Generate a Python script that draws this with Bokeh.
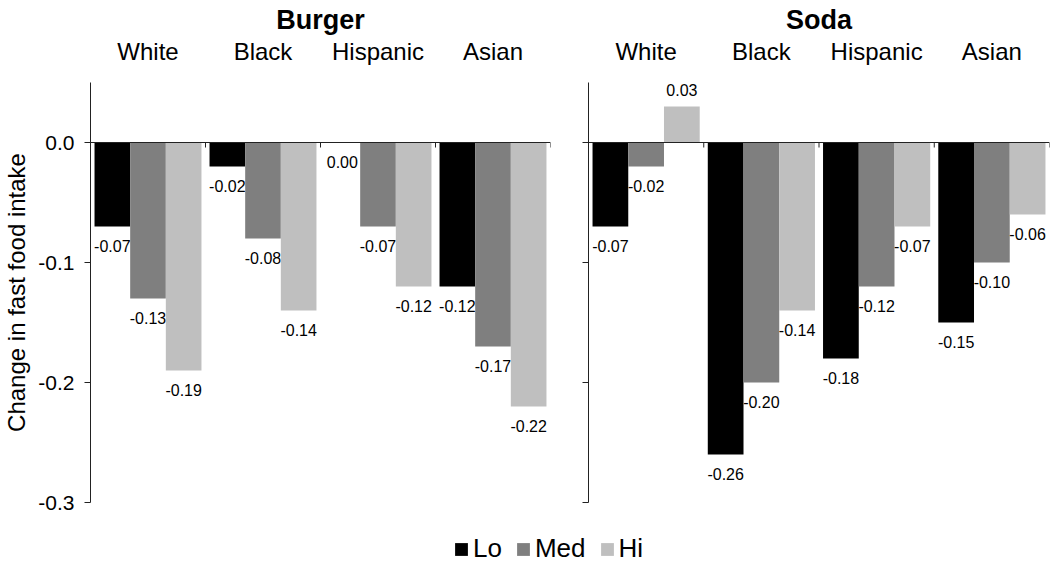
from bokeh.plotting import figure
from bokeh.models import (FactorRange, Range1d, FixedTicker, PrintfTickFormatter,
                          Span, Legend, LegendItem, ColumnDataSource)
from bokeh.layouts import column, row
from bokeh.transform import dodge
from bokeh.core.properties import value
from bokeh.embed import file_html
from bokeh.resources import INLINE

races = ["White", "Black", "Hispanic", "Asian"]
levels = ["Lo", "Med", "Hi"]
burger_lo = [-0.07, -0.02, 0.00, -0.12]
burger_med = [-0.13, -0.08, -0.07, -0.17]
burger_hi = [-0.19, -0.14, -0.12, -0.22]
soda_lo = [-0.07, -0.26, -0.18, -0.15]
soda_med = [-0.02, -0.20, -0.12, -0.10]
soda_hi = [0.03, -0.14, -0.07, -0.06]
y_ticks = [0.0, -0.1, -0.2, -0.3]
colors = ["#000000", "#7f7f7f", "#bfbfbf"]

FONT = "Liberation Sans"
Y0, Y1 = -0.3, 0.05
FRAME_H = 420
BAR_W = 0.31
OFFSETS = [-BAR_W, 0.0, BAR_W]


def panel(title, series, first):
    p = figure(
        x_range=FactorRange(factors=races, range_padding=0, factor_padding=0),
        y_range=Range1d(Y0, Y1),
        width=569 if first else 481, height=516,
        output_backend="svg", toolbar_location=None, title=title,
        x_axis_location="above",
        min_border_top=82, min_border_bottom=14,
        min_border_left=90 if first else 19,
        min_border_right=19 if first else 1,
    )
    p.outline_line_color = None
    p.grid.visible = False
    p.background_fill_color = "white"
    p.title.align = "center"
    p.title.text_font = FONT
    p.title.text_font_style = "bold"
    p.title.text_font_size = "27px"
    p.title.text_color = "black"
    p.title.standoff = 0
    p.title.text_line_height = 1.0

    xa = p.xaxis[0]
    xa.axis_line_color = None
    xa.major_tick_line_color = None
    xa.major_tick_out = 0
    xa.major_tick_in = 0
    xa.major_label_text_font = FONT
    xa.major_label_text_font_size = "24px"
    xa.major_label_text_color = "black"
    xa.major_label_text_line_height = 1.0
    xa.major_label_standoff = 18

    ya = p.yaxis[0]
    ya.ticker = FixedTicker(ticks=y_ticks)
    ya.formatter = PrintfTickFormatter(format="%.1f")
    ya.axis_line_color = "#222222"
    ya.major_tick_line_color = "#222222"
    ya.major_tick_out = 6
    ya.major_tick_in = 0
    ya.minor_tick_line_color = None
    ya.major_label_standoff = 10
    ya.major_label_text_font = FONT
    ya.major_label_text_color = "black"
    ya.major_label_text_font_size = "21px"
    if first:
        ya.axis_label = "Change in fast food intake"
        ya.axis_label_text_font = FONT
        ya.axis_label_text_font_size = "24px"
        ya.axis_label_text_font_style = "normal"
        ya.axis_label_text_color = "black"
        ya.axis_label_text_line_height = 1.0
        ya.axis_label_standoff = 5
    else:
        ya.major_label_overrides = {t: "" for t in y_ticks}
        ya.major_label_standoff = 0

    for vals, off, col in zip(series, OFFSETS, colors):
        src = ColumnDataSource(dict(
            race=races, val=vals,
            txt=[f"{v:.2f}" for v in vals],
            yoff=[-17 if v > 0 else 19 for v in vals],
        ))
        p.vbar(x=dodge("race", off, range=p.x_range), top="val", bottom=0,
               width=BAR_W, source=src, fill_color=col, line_color=None)
        p.text(x=dodge("race", off, range=p.x_range), y="val", text="txt",
               y_offset="yoff", source=src, text_align="center",
               text_baseline="middle", text_font=value(FONT),
               text_font_size="16px", text_color="black")

    p.add_layout(Span(location=0, dimension="width", line_color="#222222",
                      line_width=1))
    tick_len = 5 * (Y1 - Y0) / FRAME_H
    bounds = [1, 2, 3, 4]
    p.segment(x0=bounds, y0=[0] * 4, x1=bounds, y1=[-tick_len] * 4,
              line_color="#222222", line_width=1)
    return p


p1 = panel("Burger", [burger_lo, burger_med, burger_hi], True)
p2 = panel("Soda", [soda_lo, soda_med, soda_hi], False)

lf = figure(width=1050, height=48, output_backend="svg", toolbar_location=None,
            title=None, x_range=Range1d(0, 1), y_range=Range1d(0, 1),
            min_border=0, x_axis_location=None, y_axis_location=None)
lf.outline_line_color = None
lf.grid.visible = False
items = []
nan = float("nan")
for lev, col in zip(levels, colors):
    # legend-key renderers only (no drawable data)
    r = lf.vbar(x=[0.5], bottom=[nan], top=[nan], width=0.1,
                fill_color=col, line_color=None)
    items.append(LegendItem(label=lev, renderers=[r]))
leg = Legend(items=items, orientation="horizontal", location=(453, 0),
             padding=0, margin=0, spacing=13, label_standoff=4,
             glyph_width=16, glyph_height=16,
             label_text_font=FONT, label_text_font_size="26px",
             label_text_color="black", border_line_color=None,
             background_fill_alpha=0)
lf.add_layout(leg, "center")

layout = column(row(p1, p2), lf)
open("out.html", "w").write(file_html(layout, INLINE))
